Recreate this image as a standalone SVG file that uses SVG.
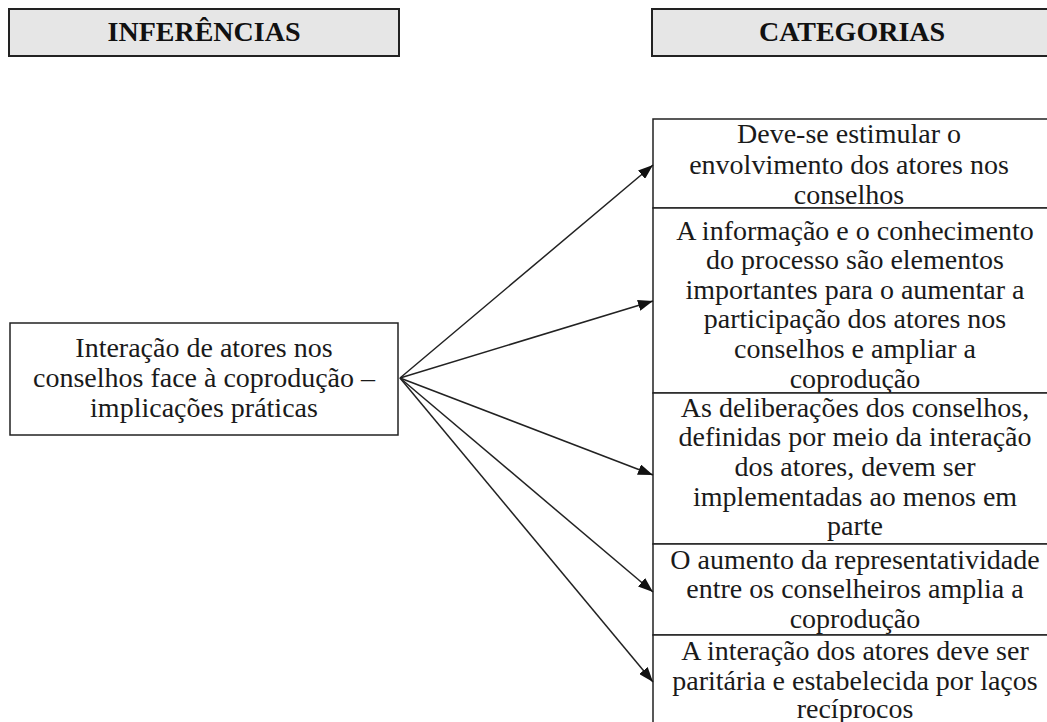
<svg xmlns="http://www.w3.org/2000/svg" width="1047" height="722" viewBox="0 0 1047 722">
<style>
.hdr{fill:#e6e6e6;stroke:#222;stroke-width:2}
.box{fill:#fff;stroke:#222;stroke-width:1.5}
.ht{font-family:"Liberation Serif",serif;font-weight:bold;font-size:28px;fill:#111;text-anchor:middle}
.t{font-family:"Liberation Serif",serif;font-size:28px;fill:#1a1a1a;text-anchor:middle}
.c{stroke:#222;stroke-width:1.5;fill:none;marker-end:url(#ah)}
</style>
<defs>
<marker id="ah" viewBox="0 0 15 11" refX="15" refY="5.5" markerWidth="15" markerHeight="11" markerUnits="userSpaceOnUse" orient="auto">
<path d="M0,0 L15,5.5 L0,11 z" fill="#111"/>
</marker>
</defs>
<rect width="1047" height="722" fill="#fff"/>
<g id="hdr-inferencias">
<rect class="hdr" x="9" y="9" width="390" height="47"/>
<text class="ht" x="204" y="41">INFERÊNCIAS</text>
</g>
<g id="hdr-categorias">
<rect class="hdr" x="652" y="9" width="410" height="47"/>
<text class="ht" x="852" y="41">CATEGORIAS</text>
</g>
<g id="inferencia">
<rect class="box" x="10" y="323" width="388" height="112"/>
<text class="t" x="204" y="357">Interação de atores nos</text>
<text class="t" x="204" y="387">conselhos face à coprodução –</text>
<text class="t" x="204" y="417">implicações práticas</text>
</g>
<g id="cat1">
<rect class="box" x="653" y="119" width="420" height="89"/>
<text class="t" x="849" y="143">Deve-se estimular o</text>
<text class="t" x="849" y="174">envolvimento dos atores nos</text>
<text class="t" x="849" y="204">conselhos</text>
</g>
<g id="cat2">
<rect class="box" x="653" y="208" width="420" height="185"/>
<text class="t" x="855" y="240">A informação e o conhecimento</text>
<text class="t" x="855" y="269">do processo são elementos</text>
<text class="t" x="855" y="299">importantes para o aumentar a</text>
<text class="t" x="855" y="328">participação dos atores nos</text>
<text class="t" x="855" y="358">conselhos e ampliar a</text>
<text class="t" x="855" y="388">coprodução</text>
</g>
<g id="cat3">
<rect class="box" x="653" y="393" width="420" height="151"/>
<text class="t" x="855" y="417">As deliberações dos conselhos,</text>
<text class="t" x="855" y="446">definidas por meio da interação</text>
<text class="t" x="855" y="476">dos atores, devem ser</text>
<text class="t" x="855" y="506">implementadas ao menos em</text>
<text class="t" x="855" y="535">parte</text>
</g>
<g id="cat4">
<rect class="box" x="653" y="544" width="420" height="91"/>
<text class="t" x="855" y="569">O aumento da representatividade</text>
<text class="t" x="855" y="598">entre os conselheiros amplia a</text>
<text class="t" x="855" y="628">coprodução</text>
</g>
<g id="cat5">
<rect class="box" x="653" y="635" width="420" height="110"/>
<text class="t" x="855" y="660">A interação dos atores deve ser</text>
<text class="t" x="855" y="690">paritária e estabelecida por laços</text>
<text class="t" x="855" y="718">recíprocos</text>
</g>
<g id="connectors">
<line class="c" x1="400" y1="378" x2="653" y2="165"/>
<line class="c" x1="400" y1="378" x2="653" y2="301"/>
<line class="c" x1="400" y1="378" x2="653" y2="475"/>
<line class="c" x1="400" y1="378" x2="653" y2="592"/>
<line class="c" x1="400" y1="378" x2="653" y2="682"/>
</g>
</svg>
